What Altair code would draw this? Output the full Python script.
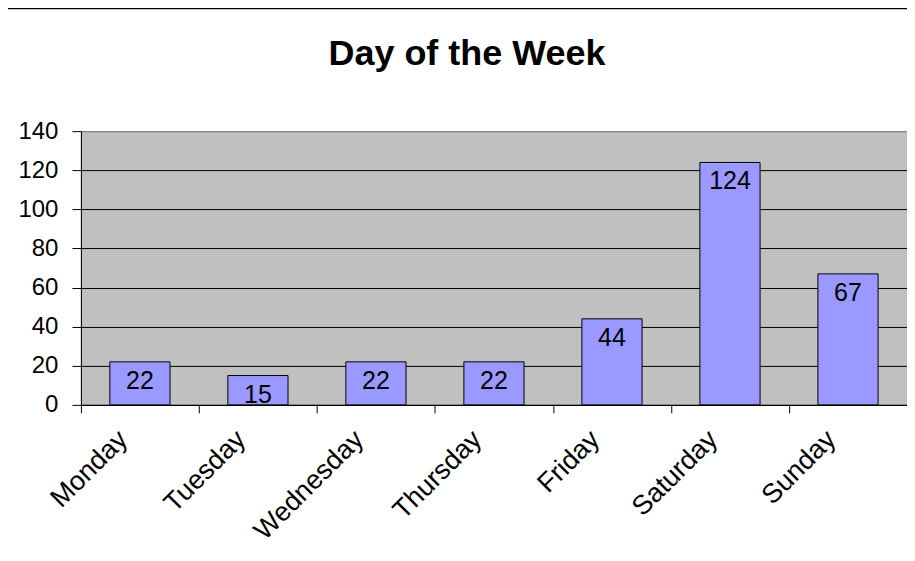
import altair as alt
import pandas as pd

days = ["Monday", "Tuesday", "Wednesday", "Thursday", "Friday", "Saturday", "Sunday"]
counts = [22, 15, 22, 22, 44, 124, 67]
y_ticks = [0, 20, 40, 60, 80, 100, 120, 140]
title_text = "Day of the Week"

df = pd.DataFrame({"day": days, "count": counts})
FONT = "Liberation Sans"

x_enc = alt.X(
    "day:N",
    sort=days,
    title=None,
    scale=alt.Scale(paddingInner=0, paddingOuter=0),
    axis=alt.Axis(
        tickBand="extent",
        tickSize=8,
        tickColor="black",
        domainColor="black",
        labelAngle=-45,
        labelAlign="right",
        labelBaseline="middle",
        labelFont=FONT,
        labelFontSize=27,
        labelColor="black",
        labelPadding=22,
        labelOffset=-17,
        labelOverlap=False,
        grid=False,
    ),
)
y_enc = alt.Y(
    "count:Q",
    title=None,
    scale=alt.Scale(domain=[0, 140], nice=False),
    axis=alt.Axis(
        values=y_ticks,
        tickCount=8,
        tickSize=9,
        tickColor="black",
        domainColor="black",
        labelFont=FONT,
        labelFontSize=24,
        labelColor="black",
        labelPadding=14,
        labelOverlap=False,
        grid=True,
        gridColor=alt.condition("datum.value == 140", alt.value("#808080"), alt.value("black")),
        gridWidth=1,
    ),
)

base = alt.Chart(df)
bars = base.mark_bar(
    color="#9999FF", stroke="black", strokeWidth=1, width=alt.RelativeBandSize(0.51)
).encode(x=x_enc, y=y_enc)
labels = base.mark_text(
    baseline="top", dy=7, fontSize=25, font=FONT, color="black"
).encode(x=x_enc, y=y_enc, text="count:Q")

frame = pd.DataFrame({"title": [title_text]})
left_border = alt.Chart(frame).mark_rule(color="black", strokeWidth=2).encode(
    x=alt.value(-74), y=alt.value(-123), y2=alt.value(440)
)
top_border = alt.Chart(frame).mark_rule(color="black", strokeWidth=2).encode(
    x=alt.value(-74), x2=alt.value(840), y=alt.value(-123)
)
title = alt.Chart(frame).mark_text(
    font=FONT, fontSize=36, fontWeight="bold", color="black",
    align="center", baseline="alphabetic",
).encode(text="title:N", x=alt.value(386.5), y=alt.value(-66))

chart = (
    alt.layer(bars, labels, left_border, top_border, title)
    .properties(
        width=827,
        height=274,
        autosize=alt.AutoSizeParams(type="none"),
        padding={"left": 73, "top": 123, "right": 0, "bottom": 148},
        background="white",
    )
    .configure_view(fill="#C0C0C0", stroke="#808080", strokeWidth=1)
)

chart.save("out.html", embed_options={"renderer": "svg", "actions": False})
